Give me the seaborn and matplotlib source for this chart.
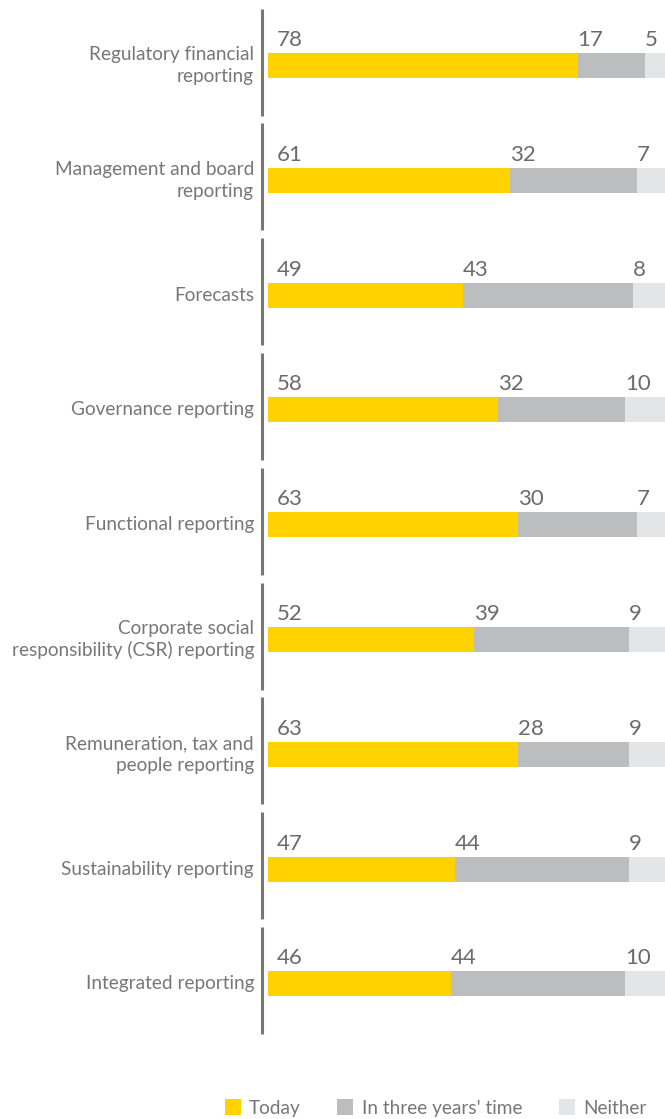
import matplotlib
matplotlib.use('Agg')

import matplotlib.pyplot as plt
from matplotlib.patches import Patch
import seaborn as sns
import pandas as pd

# 資料
categories = [
    'Regulatory financial\nreporting',
    'Management and board\nreporting',
    'Forecasts',
    'Governance reporting',
    'Functional reporting',
    'Corporate social\nresponsibility (CSR) reporting',
    'Remuneration, tax and\npeople reporting',
    'Sustainability reporting',
    'Integrated reporting',
]
today = [78, 61, 49, 58, 63, 52, 63, 47, 46]
three_years = [17, 32, 43, 32, 30, 39, 28, 44, 44]
neither = [5, 7, 8, 10, 7, 9, 9, 9, 10]
series_names = ['Today', "In three years' time", 'Neither']

YELLOW = '#FFD200'
GREY = '#BCBDBF'
LIGHT = '#E4E5E6'
LINE = '#76777A'
LABEL = '#76777A'
NUM = '#6A6B6E'

sns.set_style('white')
plt.rcParams['font.family'] = ['Lato', 'DejaVu Sans']

df = pd.DataFrame({'cat': categories, 'today': today, 'three': three_years, 'neither': neither})
df['c1'] = df['today']
df['c2'] = df['today'] + df['three']
df['c3'] = df['c2'] + df['neither']

W, H = 665, 1119
fig = plt.figure(figsize=(W / 100, H / 100), dpi=100)
left = 268 / W
ax = fig.add_axes([left, 0, 1 - left, 1])

bar_h = 25 / 114.8
for col, color in [('c3', LIGHT), ('c2', GREY), ('c1', YELLOW)]:
    sns.barplot(data=df, x=col, y='cat', orient='h', color=color, width=bar_h,
                saturation=1, ax=ax, edgecolor='none', linewidth=0)

ax.set_xlim(0, 100)
# 像素對應：第一根長條中心在 65.5px，間距 114.8px
top = -65.5 / 114.8
bottom = (H - 65.5) / 114.8
ax.set_ylim(bottom, top)
ax.axis('off')

px = 100 / 397  # 每像素的 x 單位
py = 1 / 114.8  # 每像素的 y 單位

for i, row in df.iterrows():
    # 數字標籤
    base = i - 19.5 * py
    ax.text(9 * px, base, str(row['today']), ha='left', va='baseline',
            fontsize=16, color=NUM)
    ax.text(row['c1'], base, str(row['three']), ha='left', va='baseline',
            fontsize=16, color=NUM)
    ax.text(row['c2'], base, str(row['neither']), ha='left', va='baseline',
            fontsize=16, color=NUM)
    # 類別文字
    ax.text(-14 * px, i, row['cat'], ha='right', va='center', fontsize=13.7,
            color=LABEL, linespacing=1.32, clip_on=False)
    # 左側分段軸線
    ax.plot([-6 * px, -6 * px], [i - 57 * py, i + 50 * py], color=LINE,
            lw=2.2, solid_capstyle='butt', clip_on=False)

handles = [Patch(facecolor=c, edgecolor='none') for c in (YELLOW, GREY, LIGHT)]
fig.legend(handles, series_names, loc='center', bbox_to_anchor=(0.655, 11 / H),
           ncol=3, frameon=False, fontsize=13.7, labelcolor=LABEL,
           handlelength=0.85, handleheight=0.85, handletextpad=0.45,
           columnspacing=1.9)

fig.savefig('out.png', dpi=100)
